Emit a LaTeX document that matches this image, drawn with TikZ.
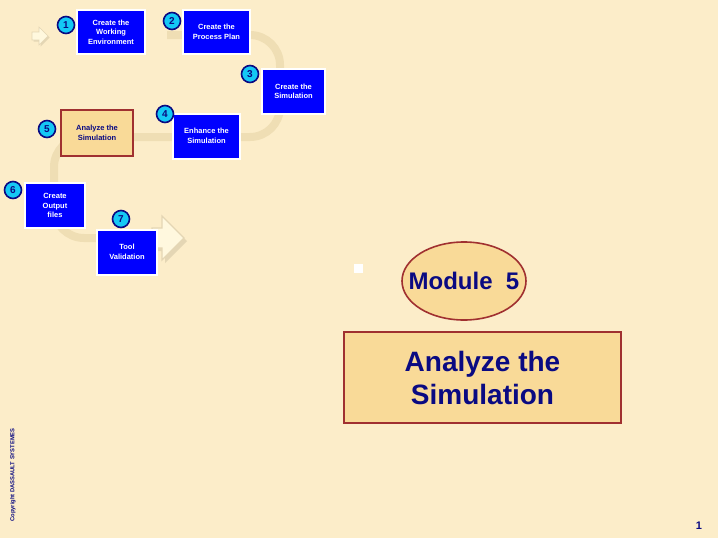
\documentclass[tikz,border=0pt]{standalone}
\usepackage{fontspec}
\setmainfont{Liberation Sans}
\usepackage{tikz}
\usetikzlibrary{positioning,shapes.geometric}
\definecolor{paper}{RGB}{252,237,201}
\definecolor{tracktan}{RGB}{239,222,180}
\definecolor{navy}{RGB}{10,10,130}
\definecolor{boxorange}{RGB}{249,218,152}
\definecolor{brickred}{RGB}{160,48,48}
\definecolor{dotcyan}{RGB}{20,200,245}
\definecolor{arrowcream}{RGB}{255,248,222}
\definecolor{shadowtan}{RGB}{228,214,180}
\tikzset{
  stepblue/.style={rectangle, fill={rgb,255:red,0;green,0;blue,255}, draw=white, line width=2pt,
    text=white, align=center, font=\fontsize{7.5}{9.5}\selectfont\bfseries, inner sep=1pt},
  stepcur/.style={rectangle, fill=boxorange, draw=brickred, line width=1.6pt,
    text=navy, align=center, font=\fontsize{7.5}{9.5}\selectfont\bfseries, inner sep=1pt},
  numdot/.style={circle, fill=dotcyan, draw=navy, line width=1.6pt, minimum size=17pt,
    inner sep=0pt, text=navy, font=\fontsize{10}{10}\selectfont\bfseries},
  track/.style={draw=tracktan, line width=8pt, rounded corners=30pt}
}

\begin{document}
\begin{tikzpicture}[x=1pt,y=-1pt]
    % Background
    \fill[paper] (0,0) rectangle (718,538);
    \useasboundingbox (0,0) rectangle (718,538);
    % Track behind the steps
    \coordinate (t0) at (167,35);
    \coordinate (t1) at (280,35);
    \coordinate (t2) at (280,137);
    \coordinate (t3) at (54,137);
    \coordinate (t4) at (54,238);
    \coordinate (tend) at (158,238);
    \draw[track] (t0) -- (t1) -- (t2) -- (t3) -- (t4) -- (tend);
    % Start arrow
    \fill[shadowtan] (33.5,33.5) -- (40.5,33.5) -- (40.5,28.5) -- (49.5,37.5) -- (40.5,46.5) -- (40.5,41.5) -- (33.5,41.5) -- cycle;
    \filldraw[fill=arrowcream, draw=shadowtan, line width=0.6pt] (32,32) -- (39,32) -- (39,27) -- (48,36) -- (39,45) -- (39,40) -- (32,40) -- cycle;
    % End arrow
    \fill[shadowtan] (155,231) -- (165,231) -- (165,219) -- (187,241) -- (165,263) -- (165,251) -- (155,251) -- cycle;
    \filldraw[fill=arrowcream, draw=shadowtan, line width=1.2pt] (152,228) -- (162,228) -- (162,216) -- (184,238) -- (162,260) -- (162,248) -- (152,248) -- cycle;
    % Steps
    \node[stepblue, minimum width=68pt, minimum height=44pt] (b1) at (111,32) {Create the\\Working\\Environment};
    \node[stepblue, minimum width=67pt, minimum height=44pt] (b2) at (216.5,32) {Create the\\Process Plan};
    \node[stepblue, minimum width=63pt, minimum height=45pt] (b3) at (293.5,91.5) {Create the\\Simulation};
    \node[stepblue, minimum width=67pt, minimum height=45pt] (b4) at (206.5,136) {Enhance the\\Simulation};
    \node[stepcur, minimum width=72pt, minimum height=46pt] (b5) at (97,133) {Analyze the\\Simulation};
    \node[stepblue, minimum width=60pt, minimum height=45pt] (b6) at (55,205.5) {Create\\Output\\files};
    \node[stepblue, minimum width=60pt, minimum height=45pt] (b7) at (127,252) {Tool\\Validation};
    % Step numbers
    \node[numdot] (n1) at (66,25) {1};
    \node[numdot] (n2) at (172,21) {2};
    \node[numdot] (n3) at (250,74) {3};
    \node[numdot] (n4) at (165,114) {4};
    \node[numdot] (n5) at (47,129) {5};
    \node[numdot] (n6) at (13,190) {6};
    \node[numdot] (n7) at (121,219) {7};
    % Module title
    \fill[white] (354,264) rectangle (363,273);
    \node[ellipse, fill=boxorange, draw=brickred, line width=1.6pt, minimum width=124pt, minimum height=78pt,
      inner sep=0pt, label={[text=navy, font=\fontsize{24}{24}\selectfont\bfseries]center:Module~~5}] (modnum) at (464,281) {};
    \node[rectangle, fill=boxorange, draw=brickred, line width=1.6pt, minimum width=277pt, minimum height=91pt,
      text=navy, align=center, font=\fontsize{28}{33}\selectfont\bfseries] (modname) at (482.5,377.5) {Analyze the\\Simulation};
    % Footer
    \node[rotate=90, text=navy, font=\fontsize{5.8}{6}\selectfont\bfseries] (copy) at (13,475) {Copyright DASSAULT SYSTEMES};
    \node[text=navy, font=\fontsize{11}{11}\selectfont\bfseries] (pagenum) at (699,526) {1};
\end{tikzpicture}
\end{document}
